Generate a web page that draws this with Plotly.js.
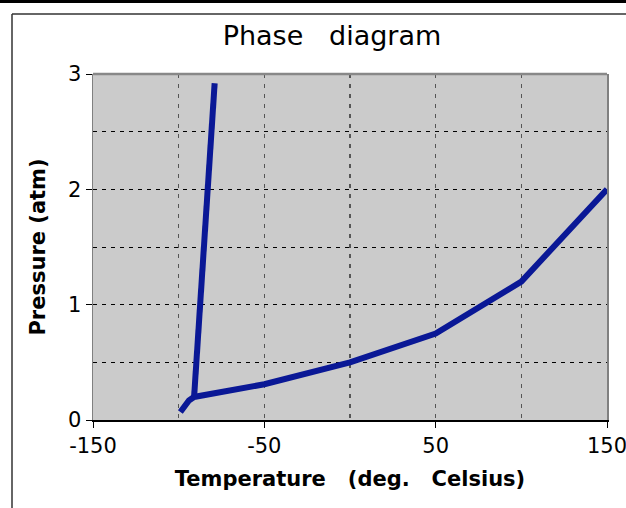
<!DOCTYPE html>
<html>
<head>
<meta charset="utf-8">
<script src="https://cdn.plot.ly/plotly-3.0.1.min.js"></script>
<style>html,body{margin:0;padding:0;background:#fff;}#chart{width:626px;height:508px;}</style>
</head>
<body>
<div id="chart"></div>
<script>
// Vapour-pressure curve (temperature in deg C, pressure in atm)
var vapTemp = [-99, -94, -91, -50, 0, 50, 100, 150];
var vapPress = [0.07, 0.17, 0.2, 0.31, 0.5, 0.75, 1.2, 2.0];
// Melting curve
var meltTemp = [-91, -79];
var meltPress = [0.2, 2.92];

var xTickVals = [-150, -50, 50, 150];
var xTickText = ['-150', '-50', '50', '150'];
var yTickVals = [0, 1, 2, 3];
var yTickText = ['0', '1', '2', '3'];

var lineColor = '#0a1896';
var traces = [
  {x: vapTemp, y: vapPress, mode: 'lines', line: {color: lineColor, width: 6}, hoverinfo: 'skip', cliponaxis: false},
  {x: meltTemp, y: meltPress, mode: 'lines', line: {color: lineColor, width: 6}, hoverinfo: 'skip', cliponaxis: false}
];

var ml = 93, mr = 19, mt = 74, mb = 88;
var W = 626, H = 508, pw = W - ml - mr, ph = H - mt - mb;
function px(x) { return (x - ml) / pw; }
function py(y) { return (H - mb - y) / ph; }

var font = 'DejaVu Sans, Verdana, sans-serif';
var layout = {
  width: W, height: H,
  margin: {l: ml, r: mr, t: mt, b: mb},
  paper_bgcolor: '#ffffff',
  plot_bgcolor: '#cbcbcb',
  showlegend: false,
  title: {text: 'Phase   diagram', font: {family: font, size: 27, color: '#000'},
          x: 332 / W, xref: 'container', xanchor: 'center', y: 1 - 36 / H, yref: 'container', yanchor: 'middle'},
  xaxis: {
    range: [-150, 150], tickmode: 'array', tickvals: xTickVals, ticktext: xTickText,
    ticks: 'outside', ticklen: 6, tickcolor: '#000', tickwidth: 1,
    ticklabeloverflow: 'allow',
    showline: true, linecolor: '#000', linewidth: 1.5,
    showgrid: true, gridcolor: '#555', griddash: '4px,6px', gridwidth: 1.5,
    minor: {tickmode: 'array', tickvals: [-100, 0, 100], showgrid: true, gridcolor: '#555', griddash: '4px,6px', gridwidth: 1.5, ticks: ''},
    zeroline: false, fixedrange: true,
    tickfont: {family: font, size: 21, color: '#000'},
    title: {text: '<b>Temperature   (deg.   Celsius)</b>', font: {family: font, size: 21, color: '#000'}, standoff: 14}
  },
  yaxis: {
    range: [0, 3], tickmode: 'array', tickvals: yTickVals, ticktext: yTickText,
    ticks: 'outside', ticklen: 6, tickcolor: '#000', tickwidth: 1,
    showline: true, linecolor: '#808080', linewidth: 1.5, mirror: true,
    showgrid: true, gridcolor: '#000', griddash: '4px,5px', gridwidth: 1,
    minor: {tickmode: 'array', tickvals: [0.5, 1.5, 2.5], showgrid: true, gridcolor: '#000', griddash: '4px,5px', gridwidth: 1, ticks: ''},
    zeroline: false, fixedrange: true,
    tickfont: {family: font, size: 21, color: '#000'},
    title: {text: '<b>Pressure (atm)</b>', font: {family: font, size: 21, color: '#000'}, standoff: 16}
  },
  shapes: [
    {type: 'line', xref: 'paper', yref: 'paper', x0: 0, x1: 1, y0: 1, y1: 1, line: {color: '#888', width: 2.5}},
    {type: 'line', xref: 'paper', yref: 'paper', x0: px(0), x1: px(W), y0: py(1.5), y1: py(1.5), line: {color: '#000', width: 3}},
    {type: 'line', xref: 'paper', yref: 'paper', x0: px(12), x1: px(W), y0: py(14), y1: py(14), line: {color: '#333', width: 1.5}},
    {type: 'line', xref: 'paper', yref: 'paper', x0: px(12), x1: px(12), y0: py(14), y1: py(H), line: {color: '#333', width: 1.5}}
  ]
};

Plotly.newPlot('chart', traces, layout, {staticPlot: true, displayModeBar: false});
</script>
</body>
</html>
